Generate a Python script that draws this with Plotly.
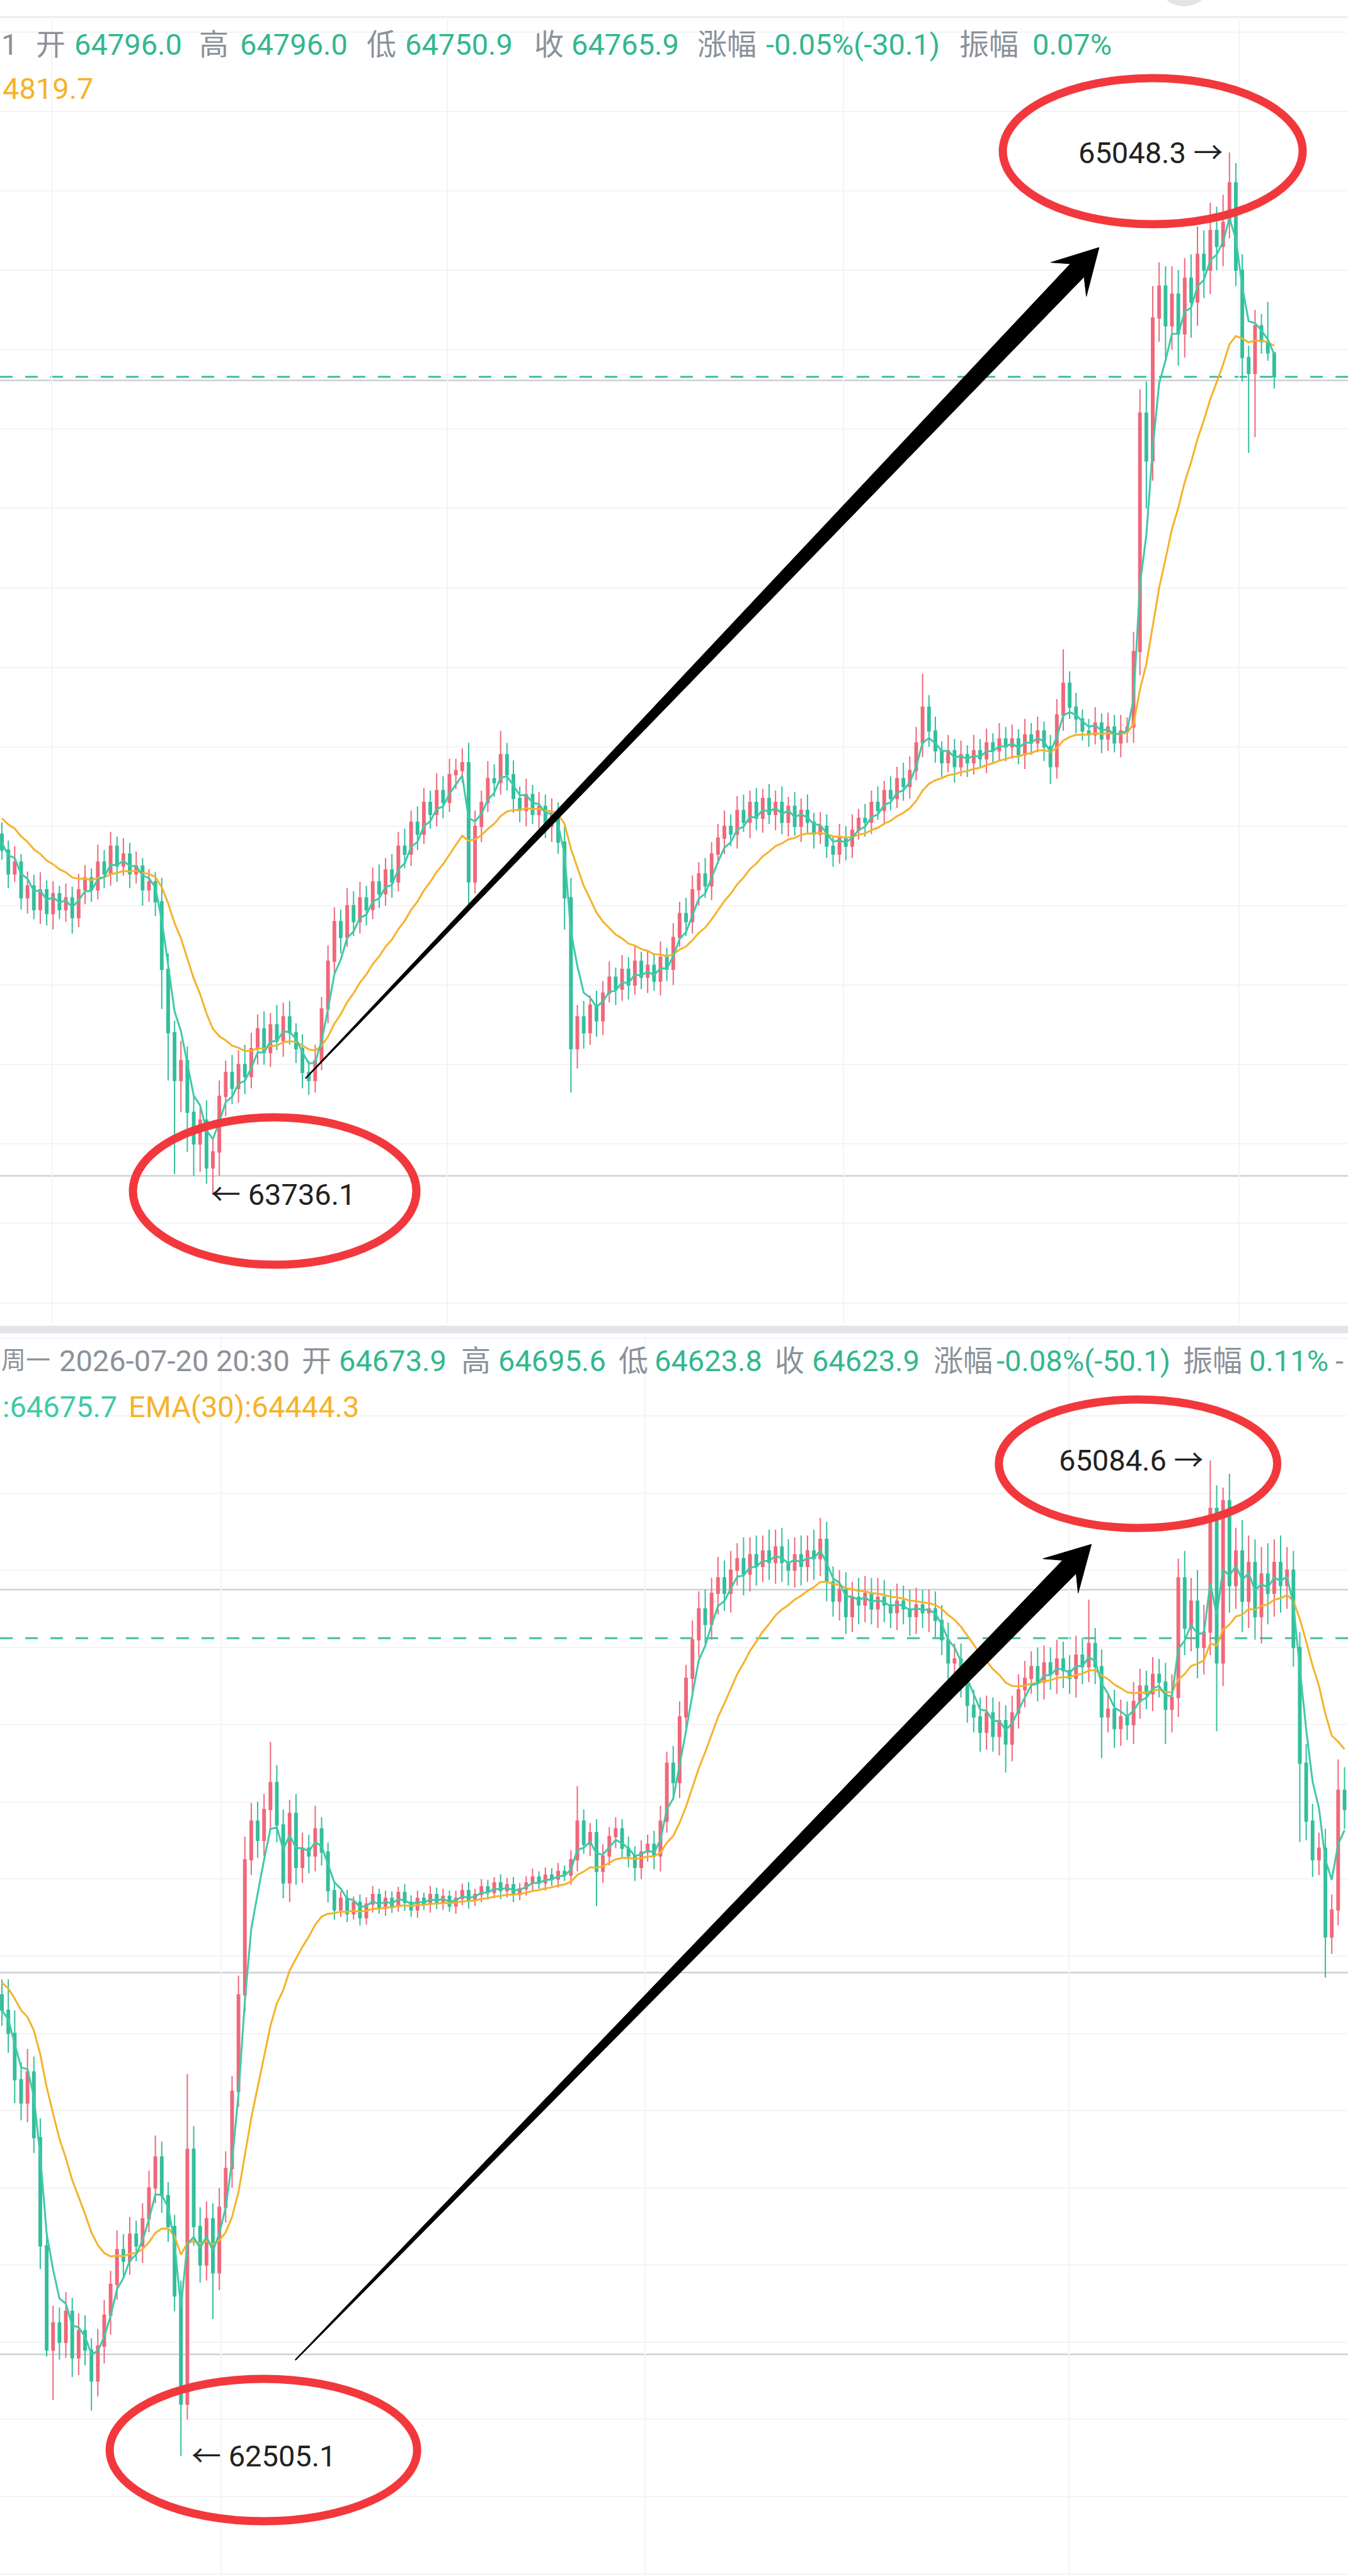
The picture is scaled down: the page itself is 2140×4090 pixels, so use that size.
import math
import plotly.graph_objects as go

W, H = 2140, 4090

# ---------------- upper screenshot : candles (open = previous close) ----------------
top_first_open = 64190
top_close = [
    64170, 64140, 64155, 64110, 64125, 64095, 64120, 64090, 64115, 64095,
    64110, 64085, 64120, 64135, 64120, 64155, 64140, 64175, 64150, 64165,
    64140, 64150, 64120, 64130, 64105, 64020, 63940, 63880, 63905, 63840,
    63800, 63830, 63770, 63790, 63860, 63890, 63870, 63900, 63885, 63920,
    63945, 63915, 63950, 63930, 63960, 63940, 63920, 63890, 63880, 63905,
    63970, 64030, 64080, 64060, 64100, 64080, 64110, 64095, 64130, 64115,
    64145, 64130, 64175, 64165, 64205, 64190, 64230, 64215, 64245, 64230,
    64265, 64270, 64280, 64130, 64200, 64230, 64260, 64255, 64290, 64265,
    64235, 64220, 64240, 64215, 64225, 64200, 64215, 64180, 64110, 63920,
    63960, 63940, 63975, 63955, 63990, 64010, 63995, 64020, 64000, 64030,
    64010, 64025, 64005, 64035, 64020, 64060, 64090, 64080, 64120, 64140,
    64125, 64165, 64185, 64200, 64190, 64220, 64205, 64230, 64210, 64235,
    64215, 64230, 64205, 64225, 64200, 64220, 64205, 64190, 64200, 64175,
    64165, 64185, 64175, 64195, 64210, 64205, 64230, 64220, 64245, 64235,
    64260, 64250, 64270, 64305, 64350, 64320, 64295, 64280, 64295, 64275,
    64290, 64280, 64295, 64285, 64305, 64295, 64310, 64300, 64310, 64290,
    64315, 64305, 64320, 64300, 64275, 64340, 64380, 64350, 64335, 64320,
    64315, 64330, 64310, 64325, 64305, 64320, 64325, 64420, 64720, 64660,
    64840, 64880, 64830, 64870, 64820, 64890, 64860, 64920, 64900, 64950,
    64930, 64960, 65010, 64900, 64790, 64770, 64830, 64810, 64796, 64765.9,
]
top_upper_wick = [
    15, 12, 20, 10, 18, 14, 22, 12, 16, 10,
    18, 14, 20, 16, 12, 22, 15, 18, 12, 20,
    14, 18, 10, 16, 12, 30, 20, 15, 25, 18,
    20, 15, 25, 18, 20, 15, 22, 18, 25, 20,
    18, 22, 15, 25, 18, 20, 12, 18, 15, 20,
    15, 20, 18, 15, 22, 18, 20, 15, 18, 22,
    15, 20, 18, 22, 15, 20, 18, 15, 22, 18,
    20, 15, 18, 25, 20, 15, 22, 18, 30, 15,
    18, 15, 20, 12, 18, 15, 20, 15, 20, 25,
    15, 20, 12, 18, 15, 20, 12, 18, 15, 20,
    12, 18, 15, 20, 12, 18, 15, 20, 18, 15,
    20, 15, 18, 20, 15, 18, 20, 15, 18, 12,
    18, 15, 20, 12, 18, 15, 20, 12, 18, 15,
    12, 18, 15, 20, 12, 18, 15, 20, 12, 18,
    15, 20, 18, 20, 42, 15, 18, 12, 20, 15,
    18, 12, 20, 15, 18, 12, 20, 15, 18, 12,
    20, 15, 18, 12, 15, 20, 43, 15, 18, 12,
    15, 20, 12, 18, 15, 20, 12, 25, 30, 40,
    40, 30, 25, 35, 30, 25, 30, 35, 30, 35,
    30, 35, 38.3, 25, 20, 15, 20, 15, 50, 0,
]
top_lower_wick = [
    12, 18, 10, 15, 20, 12, 18, 15, 20, 12,
    15, 20, 12, 18, 15, 12, 18, 15, 20, 12,
    18, 12, 20, 15, 18, 50, 60, 118, 40, 50,
    40, 35, 20, 33.9, 30, 25, 20, 18, 22, 15,
    20, 15, 18, 12, 20, 15, 18, 20, 18, 15,
    12, 18, 15, 20, 12, 18, 15, 20, 12, 18,
    15, 20, 12, 18, 15, 20, 12, 18, 15, 20,
    12, 18, 15, 30, 15, 20, 12, 18, 15, 20,
    18, 15, 20, 12, 18, 15, 20, 15, 40, 55,
    25, 20, 15, 20, 18, 12, 20, 15, 18, 12,
    15, 20, 12, 18, 15, 20, 12, 18, 15, 20,
    15, 18, 12, 20, 15, 18, 12, 20, 15, 18,
    12, 20, 15, 18, 12, 20, 15, 18, 12, 15,
    16, 12, 18, 15, 12, 18, 15, 12, 18, 15,
    12, 18, 15, 12, 18, 20, 15, 18, 12, 20,
    12, 18, 15, 12, 18, 15, 12, 18, 15, 12,
    18, 15, 12, 18, 22, 15, 20, 15, 18, 12,
    15, 12, 18, 15, 12, 18, 15, 20, 30, 60,
    25, 30, 40, 30, 40, 30, 45, 30, 35, 30,
    30, 25, 20, 20, 30, 100, 80, 15, 10, 15.0,
]

# ---------------- lower screenshot : candles ----------------
bot_first_open = 63700
bot_close = [
    63660, 63600, 63480, 63420, 63500, 63330, 63050, 62780, 62850, 62800,
    62880, 62760, 62830, 62780, 62700, 62790, 62870, 62950, 63040, 63010,
    63080, 63050, 63120, 63200, 63280, 63180, 63100, 62920, 62640, 63300,
    63100, 63000, 63120, 62980, 63150, 63250, 63450, 63700, 64050, 64150,
    64100, 64180, 64250, 64140, 63990, 64170, 64030, 64080, 64060, 64130,
    64070, 63970, 63920, 63950, 63910, 63940, 63900, 63935, 63960, 63925,
    63950, 63930, 63965, 63940, 63920, 63950, 63935, 63960, 63940, 63955,
    63930, 63950, 63970, 63945, 63960, 63980, 63965, 63990, 63970, 63985,
    63960, 63975, 63990, 64005, 63990, 64010, 64000, 64020, 64010, 64050,
    64150, 64090, 64120, 64020, 64060, 64110, 64130, 64080, 64060, 64030,
    64070, 64090, 64060, 64150, 64300, 64250, 64420, 64520, 64620, 64700,
    64660, 64740, 64780, 64740, 64800, 64830, 64790, 64840, 64810, 64850,
    64820, 64860, 64820, 64800, 64840, 64810, 64850, 64830, 64880, 64770,
    64720, 64750, 64680, 64730, 64710, 64740, 64700, 64730, 64710, 64690,
    64720, 64700, 64680, 64710, 64690, 64700, 64670, 64620, 64560, 64570,
    64510, 64450, 64420, 64380, 64430, 64370, 64410, 64350, 64430, 64490,
    64520, 64550, 64510, 64560, 64530, 64570, 64540, 64520, 64580, 64550,
    64610, 64550, 64420, 64440, 64390, 64420, 64400, 64460, 64500, 64480,
    64530, 64510, 64440, 64470, 64780, 64650, 64720, 64600, 64640, 64960,
    64560, 64980, 64760, 64850, 64720, 64820, 64680, 64790, 64740, 64820,
    64760, 64800, 64600, 64300, 64150, 64050, 64080, 63850, 63920, 64230, 64180,
]
bot_upper_wick = [
    40, 80, 60, 45, 60, 40, 50, 35, 45, 40,
    50, 35, 45, 40, 30, 45, 40, 35, 50, 40,
    45, 35, 40, 45, 56, 40, 35, 30, 40, 195,
    60, 50, 45, 40, 50, 45, 40, 50, 60, 47,
    50, 40, 105, 45, 40, 35, 50, 40, 35, 60,
    30, 25, 20, 18, 22, 15, 20, 18, 22, 15,
    20, 18, 15, 22, 18, 20, 15, 22, 18, 20,
    15, 20, 18, 22, 15, 20, 18, 15, 22, 18,
    20, 15, 18, 22, 15, 20, 18, 22, 15, 25,
    91, 30, 25, 35, 30, 25, 30, 25, 30, 25,
    30, 25, 35, 40, 30, 45, 40, 35, 50, 45,
    50, 40, 55, 45, 50, 40, 55, 45, 50, 40,
    55, 45, 50, 60, 45, 50, 40, 55, 56, 45,
    40, 50, 45, 40, 50, 45, 40, 50, 45, 40,
    45, 40, 50, 45, 40, 50, 45, 40, 45, 40,
    40, 45, 40, 50, 45, 40, 50, 40, 45, 40,
    45, 40, 50, 45, 40, 50, 45, 40, 50, 45,
    114, 40, 45, 40, 50, 45, 40, 50, 45, 40,
    45, 40, 50, 60, 50, 70, 60, 80, 70, 124.6,
    60, 34, 70, 60, 80, 70, 60, 70, 80, 60,
    70, 60, 50, 40, 50, 45, 40, 50, 40, 80, 60,
]
bot_lower_wick = [
    40, 50, 60, 45, 50, 40, 60, 17, 130, 45,
    40, 50, 45, 40, 77, 40, 45, 50, 40, 45,
    35, 40, 45, 35, 40, 45, 40, 40, 134.9, 40,
    50, 45, 40, 120, 45, 40, 50, 40, 45, 40,
    45, 40, 50, 45, 40, 50, 45, 40, 45, 40,
    35, 30, 25, 18, 22, 15, 20, 18, 22, 15,
    20, 18, 15, 22, 18, 20, 15, 22, 18, 20,
    15, 20, 18, 22, 15, 20, 18, 15, 22, 18,
    20, 15, 18, 22, 15, 20, 18, 22, 15, 25,
    30, 25, 30, 90, 30, 25, 30, 25, 30, 35,
    30, 25, 35, 40, 30, 45, 40, 35, 50, 45,
    50, 40, 55, 45, 50, 40, 55, 45, 50, 40,
    45, 55, 50, 40, 45, 50, 40, 55, 45, 50,
    40, 50, 45, 40, 50, 45, 40, 50, 45, 40,
    45, 40, 50, 45, 40, 50, 45, 40, 45, 40,
    40, 45, 40, 50, 45, 40, 50, 74, 45, 40,
    45, 40, 50, 45, 40, 50, 45, 40, 50, 45,
    40, 45, 107, 40, 50, 45, 40, 50, 45, 40,
    45, 40, 90, 60, 50, 70, 60, 80, 70, 60,
    177, 60, 70, 60, 80, 70, 60, 70, 80, 60,
    70, 60, 50, 204, 50, 45, 40, 105, 44, 40, 50,
]

# EMA lines (the candles above are ~1.8x coarser than the app's bars, so spans are scaled)
EMA_FAST_SPAN, EMA_SLOW_SPAN = 4, 17
top_ema_seed = (64185, 64215)
bot_ema_seed = (63660, 63740)

# horizontal price lines drawn in the app
top_levels = [64761.3, 63759.9]
bot_levels = [64749.6, 63757.6, 62768.9]
bot_last_price = 64623.9

# header texts: (text, left px, role[, anchor, size])
top_header_1 = [("1", 0, "lab"), ("开", 55, "lab"), ("64796.0", 116, "val"), ("高", 314, "lab"),
                ("64796.0", 379, "val"), ("低", 580, "lab"), ("64750.9", 641, "val"), ("收", 846, "lab"),
                ("64765.9", 905, "val"), ("涨幅", 1105, "lab"), ("-0.05%(-30.1)", 1214, "val"),
                ("振幅", 1521, "lab"), ("0.07%", 1637, "val")]
top_header_2 = [("4819.7", 2, "slow")]
bot_header_1 = [("周一", 0, "lab", "left", 39), ("2026-07-20 20:30", 92, "lab"), ("开", 477, "lab"),
                ("64673.9", 536, "val"), ("高", 730, "lab"), ("64695.6", 789, "val"), ("低", 980, "lab"),
                ("64623.8", 1037, "val"), ("收", 1228, "lab"), ("64623.9", 1287, "val"), ("涨幅", 1480, "lab"),
                ("-0.08%(-50.1)", 1580, "val"), ("振幅", 1876, "lab"), ("0.11%", 1981, "val"), ("-", 2118, "lab")]
bot_header_2 = [(":64675.7", 2, "fast"), ("EMA(30):64444.3", 202, "slow")]

# hand-drawn marks (data coordinates: candle index, price)
top_ellipses = [((180.0, 65049.9), (23.45, 92.0)), ((42.66, 63740.8), (22.17, 92.8))]
bot_ellipses = [((177.7, 65075.9), (21.77, 166.4)), ((40.9, 62520.8), (24.04, 184.4))]
top_arrow = ((47.5, 63882.7), (171.6, 64928.6))
bot_arrow = ((45.9, 62754.2), (170.4, 64867.1))

# ---------------- styles ----------------
RED = "#f0687a"
GREEN = "#33bf9c"
EMA_FAST_C = "#3fc9a8"
EMA_SLOW_C = "#f6b22a"
LAB_C = "#8c9199"
VAL_C = "#33b78e"
GRID = "#f3f4f6"
LEVEL_C = "#cdd0d4"
ELL_C = "#f2383d"
FONT = "Roboto, 'Noto Sans CJK SC', sans-serif"


def build_ohlc(first_open, closes, up, dn):
    opens = [first_open] + closes[:-1]
    highs = [round(max(o, c) + u, 1) for o, c, u in zip(opens, closes, up)]
    lows = [round(min(o, c) - d, 1) for o, c, d in zip(opens, closes, dn)]
    return opens, highs, lows


def ema(values, span, seed):
    a = 2.0 / (span + 1)
    out, e = [], seed
    for v in values:
        e = a * v + (1 - a) * e
        out.append(round(e, 1))
    return out


panels = [
    dict(xa="x", ya="y", xr=[-0.3, 210.54], yr=[63575.1, 65216.4], py=(30, 2100), ydt=100,
         xg0=7.78, xgd=61.9, first=top_first_open, close=top_close, up=top_upper_wick, dn=top_lower_wick,
         seed=top_ema_seed, levels=top_levels, last=top_close[-1], ellipses=top_ellipses, arrow=top_arrow,
         lowshift=-5),
    dict(xa="x2", ya="y2", xr=[-0.3, 210.54], yr=[62194.5, 65412.0], py=(2118, 4090), ydt=200,
         xg0=34.3, xgd=66.3, first=bot_first_open, close=bot_close, up=bot_upper_wick, dn=bot_lower_wick,
         seed=bot_ema_seed, levels=bot_levels, last=bot_last_price, ellipses=bot_ellipses, arrow=bot_arrow,
         lowshift=15),
]

fig = go.Figure()
shapes, annotations = [], []
layout_axes = {}

for k, P in enumerate(panels):
    n = len(P["close"])
    assert len(P["up"]) == n and len(P["dn"]) == n
    xs = list(range(n))
    opens, highs, lows = build_ohlc(P["first"], P["close"], P["up"], P["dn"])
    fig.add_trace(go.Candlestick(
        x=xs, open=opens, high=highs, low=lows, close=P["close"],
        xaxis=P["xa"], yaxis=P["ya"], whiskerwidth=0, showlegend=False,
        increasing=dict(line=dict(color=RED, width=2), fillcolor=RED),
        decreasing=dict(line=dict(color=GREEN, width=2), fillcolor=GREEN)))
    fig.add_trace(go.Scatter(x=xs, y=ema(P["close"], EMA_SLOW_SPAN, P["seed"][1]), mode="lines",
                             line=dict(color=EMA_SLOW_C, width=3), xaxis=P["xa"], yaxis=P["ya"], showlegend=False))
    fig.add_trace(go.Scatter(x=xs, y=ema(P["close"], EMA_FAST_SPAN, P["seed"][0]), mode="lines",
                             line=dict(color=EMA_FAST_C, width=3), xaxis=P["xa"], yaxis=P["ya"], showlegend=False))

    py0, py1 = P["py"]
    xname = "xaxis" if k == 0 else "xaxis2"
    yname = "yaxis" if k == 0 else "yaxis2"
    layout_axes[xname] = dict(domain=[0, 1], range=P["xr"], anchor=P["ya"], showticklabels=False, ticks="",
                              showgrid=True, gridcolor=GRID, gridwidth=2, zeroline=False, showline=False,
                              tick0=P["xg0"], dtick=P["xgd"], rangeslider=dict(visible=False), fixedrange=True)
    layout_axes[yname] = dict(domain=[1 - py1 / H, 1 - py0 / H], range=P["yr"], anchor=P["xa"],
                              showticklabels=False, ticks="", showgrid=True, gridcolor=GRID, gridwidth=2,
                              zeroline=False, showline=False, tick0=0, dtick=P["ydt"], fixedrange=True)

    xr, yr = P["xr"], P["yr"]

    def to_px(x, p, xr=xr, yr=yr, py0=py0, py1=py1):
        return ((x - xr[0]) / (xr[1] - xr[0]) * W, py0 + (yr[1] - p) / (yr[1] - yr[0]) * (py1 - py0))

    def to_data(px, py, xr=xr, yr=yr, py0=py0, py1=py1):
        return (xr[0] + px / W * (xr[1] - xr[0]), yr[1] - (py - py0) / (py1 - py0) * (yr[1] - yr[0]))

    # price lines
    for lv in P["levels"]:
        shapes.append(dict(type="line", xref="paper", yref=P["ya"], x0=0, x1=1, y0=lv, y1=lv,
                           line=dict(color=LEVEL_C, width=2.5), layer="below"))
    shapes.append(dict(type="line", xref="paper", yref=P["ya"], x0=0, x1=1, y0=P["last"], y1=P["last"],
                       line=dict(color="#3dbf9f", width=3, dash="20px,20px"), layer="below"))

    # red ellipses
    for (cx, cy), (rx, ry) in P["ellipses"]:
        shapes.append(dict(type="circle", xref=P["xa"], yref=P["ya"], x0=cx - rx, x1=cx + rx,
                           y0=cy - ry, y1=cy + ry, line=dict(color=ELL_C, width=13), layer="above"))

    # black tapered arrow
    (tx, tp), (hx, hp) = P["arrow"]
    x0, y0 = to_px(tx, tp)
    x1, y1 = to_px(hx, hp)
    L = math.hypot(x1 - x0, y1 - y0)
    ux, uy = (x1 - x0) / L, (y1 - y0) / L
    nx, ny = -uy, ux

    def pt(a, b):
        return to_data(x1 + ux * a + nx * b, y1 + uy * a + ny * b)

    poly = [pt(-L, -0.8), pt(-50, -15), pt(-70, -39), pt(0, 0), pt(-70, 39), pt(-50, 15), pt(-L, 0.8)]
    path = "M " + " L ".join(f"{a:.4f},{b:.3f}" for a, b in poly) + " Z"
    shapes.append(dict(type="path", xref=P["xa"], yref=P["ya"], path=path, fillcolor="#000000",
                       line=dict(color="#000000", width=1), layer="above"))

    # extreme labels
    hi = max(highs)
    hi_i = highs.index(hi)
    lo = min(lows)
    lo_i = lows.index(lo)
    annotations.append(dict(x=hi_i, y=hi, xref=P["xa"], yref=P["ya"], text=f"{hi:.1f} →", showarrow=False,
                            xanchor="right", yanchor="middle", xshift=-8,
                            font=dict(family=FONT, size=47, color="#222222")))
    annotations.append(dict(x=lo_i, y=lo, xref=P["xa"], yref=P["ya"], text=f"← {lo:.1f}", showarrow=False,
                            xanchor="left", yanchor="middle", xshift=P["lowshift"],
                            font=dict(family=FONT, size=47, color="#222222")))

role_color = {"lab": LAB_C, "val": VAL_C, "fast": EMA_FAST_C, "slow": EMA_SLOW_C}


def header(items, ypx):
    for it in items:
        text, px, role = it[0], it[1], it[2]
        anchor = it[3] if len(it) > 3 else "left"
        size = it[4] if len(it) > 4 else 47
        annotations.append(dict(x=px / W, y=1 - ypx / H, xref="paper", yref="paper", text=text,
                                showarrow=False, xanchor=anchor, yanchor="middle",
                                font=dict(family=FONT, size=size, color=role_color[role])))


header(top_header_1, 70)
header(top_header_2, 140)
header(bot_header_1, 2160)
header(bot_header_2, 2233)

# app chrome: top rule, grey round button edge, panel separator band
shapes.append(dict(type="line", xref="paper", yref="paper", x0=0, x1=1, y0=1 - 27 / H, y1=1 - 27 / H,
                   line=dict(color="#ececee", width=3)))
shapes.append(dict(type="circle", xref="paper", yref="paper", x0=1835 / W, x1=1925 / W,
                   y0=1 - 10 / H, y1=1 + 80 / H, fillcolor="#e4e4e6", line=dict(width=0)))
shapes.append(dict(type="rect", xref="paper", yref="paper", x0=0, x1=1, y0=1 - 2117 / H, y1=1 - 2105 / H,
                   fillcolor="#e3e5e9", line=dict(width=0)))

fig.update_layout(width=W, height=H, autosize=False, margin=dict(l=0, r=0, t=0, b=0, pad=0),
                  paper_bgcolor="white", plot_bgcolor="white", hovermode=False, showlegend=False,
                  boxgap=0.45, shapes=shapes, annotations=annotations, **layout_axes)

fig.write_html("out.html")
